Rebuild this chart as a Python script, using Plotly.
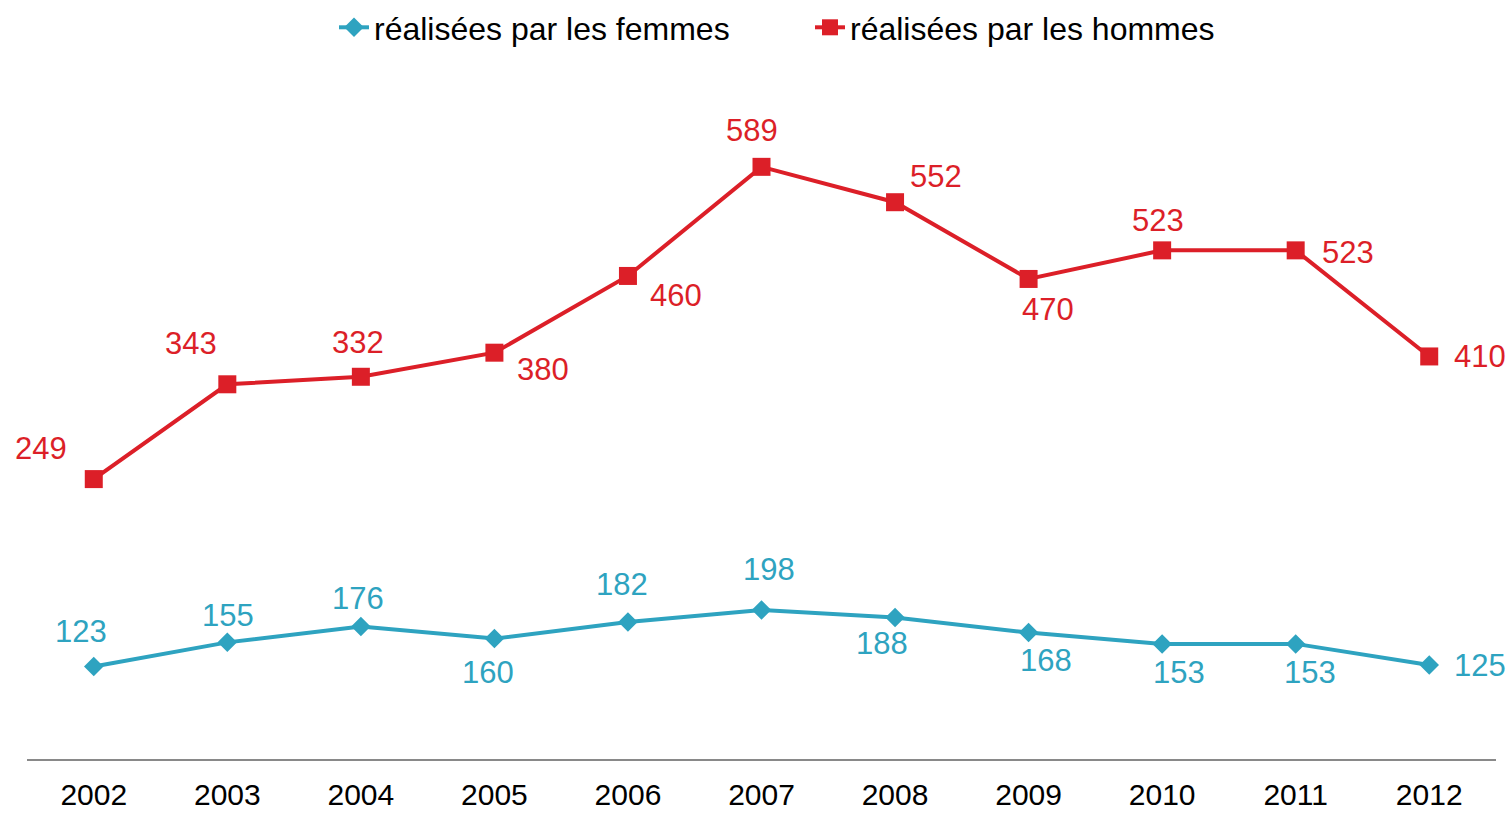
import plotly.graph_objects as go

years = [2002, 2003, 2004, 2005, 2006, 2007, 2008, 2009, 2010, 2011, 2012]
femmes = [123, 155, 176, 160, 182, 198, 188, 168, 153, 153, 125]
hommes = [249, 343, 332, 380, 460, 589, 552, 470, 523, 523, 410]

name_f = "réalisées par les femmes"
name_h = "réalisées par les hommes"

BLUE = "#2EA3C0"
RED = "#DC1F28"
FONT = "Liberation Sans, Arial, sans-serif"

# label offsets (pixels) — style only
f_dx = [-13, 1, -3, -6, -6, 7, -13, 17, 17, 14, 51]
f_dy = [35, 27, 28, -34, 38, 41, -26, -28, -29, -29, -1]
h_dx = [-53, -36, -3, 49, 48, -10, 41, 19, -4, 52, 51]
h_dy = [31, 41, 34, -17, -20, 36, 26, -31, 30, -2, 0]

fig = go.Figure()
fig.add_trace(go.Scatter(
    x=years, y=femmes, name=name_f, stackgroup="s", fill="none",
    mode="lines+markers", line=dict(color=BLUE, width=4),
    marker=dict(symbol="diamond", size=15, color=BLUE),
))
fig.add_trace(go.Scatter(
    x=years, y=hommes, name=name_h, stackgroup="s", fill="none",
    mode="lines+markers", line=dict(color=RED, width=4),
    marker=dict(symbol="square", size=18, color=RED),
))

stacked_h = [f + h for f, h in zip(femmes, hommes)]
for i, yr in enumerate(years):
    fig.add_annotation(x=yr, y=femmes[i], text=str(femmes[i]), showarrow=False,
                       xshift=f_dx[i], yshift=f_dy[i],
                       font=dict(family=FONT, size=31, color=BLUE))
    fig.add_annotation(x=yr, y=stacked_h[i], text=str(hommes[i]), showarrow=False,
                       xshift=h_dx[i], yshift=h_dy[i],
                       font=dict(family=FONT, size=31, color=RED))

fig.update_layout(
    width=1511, height=813,
    margin=dict(l=27, r=15, t=60, b=54, autoexpand=False),
    paper_bgcolor="white", plot_bgcolor="white",
    font=dict(family=FONT, size=32, color="black"),
    showlegend=True,
    legend=dict(orientation="h", x=0.533, xanchor="center", yref="container",
                y=1.0, yanchor="top", font=dict(size=32),
                entrywidth=431, entrywidthmode="pixels"),
    xaxis=dict(range=[2001.5, 2012.5], tickvals=years, ticktext=[str(y) for y in years],
               showgrid=False, zeroline=False, showline=True, linecolor="#898989",
               linewidth=2, ticks="", ticklabelstandoff=8, automargin=False,
               tickfont=dict(size=30, color="black")),
    yaxis=dict(range=[0, 929], visible=False, showgrid=False, zeroline=False,
               automargin=False),
)

fig.write_html("out.html", config={"displayModeBar": False},
               post_script="document.body.style.margin='0';document.body.style.overflow='hidden';")
